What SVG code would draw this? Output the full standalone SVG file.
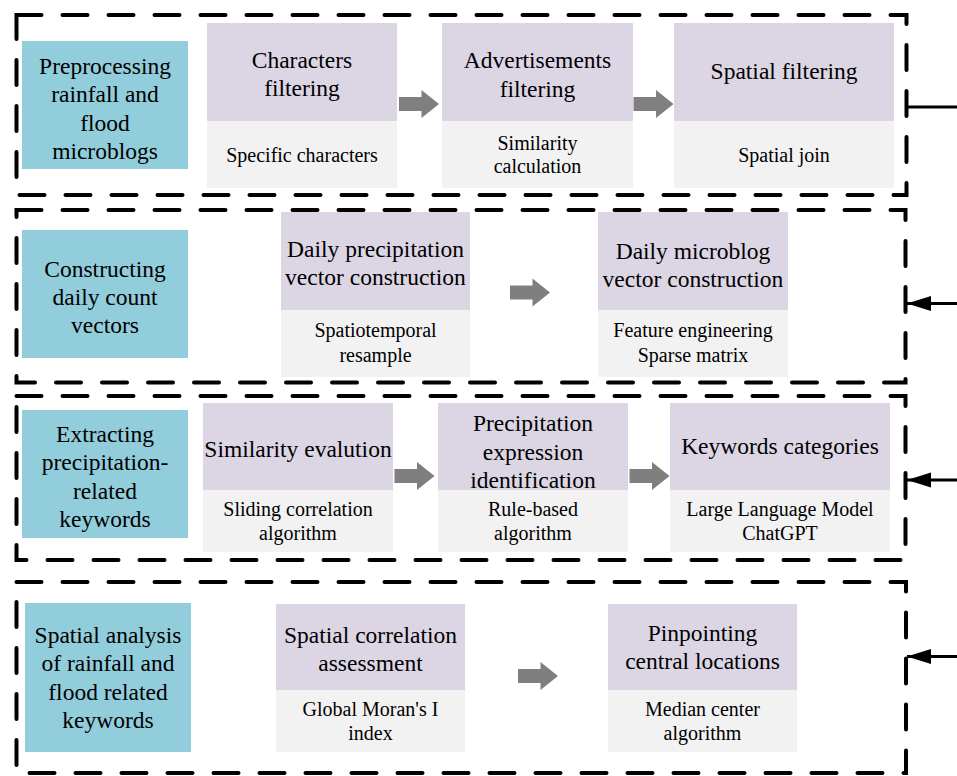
<svg xmlns="http://www.w3.org/2000/svg" width="957" height="776" viewBox="0 0 957 776">
<defs>
<style>
.frame{fill:none;stroke:#000;stroke-width:4;stroke-dasharray:25 21;stroke-linecap:round}
.blue{fill:#92CDDC}
.top{fill:#DCD6E4}
.bot{fill:#F2F2F2}
.t{font-family:"Liberation Serif","Times New Roman",serif;font-size:23.5px;fill:#000;text-anchor:middle}
.s{font-family:"Liberation Serif","Times New Roman",serif;font-size:20px;fill:#000;text-anchor:middle}
.conn{stroke:#000;stroke-width:3;fill:none}
.blk{fill:#7F7F7F}
</style>
<path id="blockArrow" d="M0,-7 L22.5,-7 L22.5,-14 L40,0 L22.5,14 L22.5,7 L0,7 Z"/>
<marker id="ah" markerUnits="userSpaceOnUse" markerWidth="26" markerHeight="16" refX="24" refY="7.5" orient="auto">
<path d="M0,0 L24,7.5 L0,15 Z" fill="#000"/>
</marker>
</defs>
<rect width="957" height="776" fill="#fff"/>

<g id="frames">
<rect class="frame" x="16.5" y="15" width="890" height="180"/>
<rect class="frame" x="16.5" y="210" width="889" height="172.5"/>
<rect class="frame" x="16.5" y="396" width="889" height="164"/>
<rect class="frame" x="16.5" y="582" width="889.5" height="191"/>
</g>

<g id="row1-label">
<rect class="blue" x="22" y="41" width="166" height="128"/>
<text class="t" x="105" y="74">Preprocessing</text>
<text class="t" x="105" y="102">rainfall and</text>
<text class="t" x="105" y="130.5">flood</text>
<text class="t" x="105" y="158.5">microblogs</text>
</g>
<g id="characters-filtering">
<rect class="top" x="207" y="23" width="190" height="98"/>
<rect class="bot" x="207" y="121" width="190" height="67"/>
<text class="t" x="302" y="68">Characters</text>
<text class="t" x="302" y="96">filtering</text>
<text class="s" x="302" y="161.5">Specific characters</text>
</g>
<g id="advertisements-filtering">
<rect class="top" x="442" y="23" width="191" height="98"/>
<rect class="bot" x="442" y="121" width="191" height="67"/>
<text class="t" x="537.5" y="68">Advertisements</text>
<text class="t" x="537.5" y="97">filtering</text>
<text class="s" x="537.5" y="149.5">Similarity</text>
<text class="s" x="537.5" y="172.5">calculation</text>
</g>
<g id="spatial-filtering">
<rect class="top" x="674" y="23" width="220" height="98"/>
<rect class="bot" x="674" y="121" width="220" height="67"/>
<text class="t" x="784" y="79">Spatial filtering</text>
<text class="s" x="784" y="161.5">Spatial join</text>
</g>

<g id="row2-label">
<rect class="blue" x="22" y="230" width="166" height="128"/>
<text class="t" x="105" y="277">Constructing</text>
<text class="t" x="105" y="305">daily count</text>
<text class="t" x="105" y="333">vectors</text>
</g>
<g id="daily-precipitation">
<rect class="top" x="281" y="212" width="189" height="98"/>
<rect class="bot" x="281" y="310" width="189" height="67"/>
<text class="t" x="375.5" y="257">Daily precipitation</text>
<text class="t" x="375.5" y="285">vector construction</text>
<text class="s" x="375.5" y="336.5">Spatiotemporal</text>
<text class="s" x="375.5" y="361.5">resample</text>
</g>
<g id="daily-microblog">
<rect class="top" x="598" y="212" width="190" height="98"/>
<rect class="bot" x="598" y="310" width="190" height="67"/>
<text class="t" x="693" y="259">Daily microblog</text>
<text class="t" x="693" y="287">vector construction</text>
<text class="s" x="693" y="336.5">Feature engineering</text>
<text class="s" x="693" y="361.5">Sparse matrix</text>
</g>

<g id="row3-label">
<rect class="blue" x="22" y="410" width="166" height="128"/>
<text class="t" x="105" y="441.5">Extracting</text>
<text class="t" x="105" y="470">precipitation-</text>
<text class="t" x="105" y="498.5">related</text>
<text class="t" x="105" y="527">keywords</text>
</g>
<g id="similarity-evalution">
<rect class="top" x="203" y="403" width="190" height="87"/>
<rect class="bot" x="203" y="490" width="190" height="62"/>
<text class="t" x="298" y="456.5">Similarity evalution</text>
<text class="s" x="298" y="515.5">Sliding correlation</text>
<text class="s" x="298" y="540">algorithm</text>
</g>
<g id="precipitation-expression">
<rect class="top" x="438" y="403" width="190" height="87"/>
<rect class="bot" x="438" y="490" width="190" height="62"/>
<text class="t" x="533" y="431">Precipitation</text>
<text class="t" x="533" y="459.5">expression</text>
<text class="t" x="533" y="487.5">identification</text>
<text class="s" x="533" y="515.5">Rule-based</text>
<text class="s" x="533" y="540">algorithm</text>
</g>
<g id="keywords-categories">
<rect class="top" x="670" y="403" width="220" height="87"/>
<rect class="bot" x="670" y="490" width="220" height="62"/>
<text class="t" x="780" y="454">Keywords categories</text>
<text class="s" x="780" y="515.5">Large Language Model</text>
<text class="s" x="780" y="540">ChatGPT</text>
</g>

<g id="row4-label">
<rect class="blue" x="25" y="603" width="166" height="149"/>
<text class="t" x="108" y="643">Spatial analysis</text>
<text class="t" x="108" y="671">of rainfall and</text>
<text class="t" x="108" y="700">flood related</text>
<text class="t" x="108" y="728">keywords</text>
</g>
<g id="spatial-correlation">
<rect class="top" x="276" y="604" width="189" height="86"/>
<rect class="bot" x="276" y="690" width="189" height="62"/>
<text class="t" x="370.5" y="643">Spatial correlation</text>
<text class="t" x="370.5" y="671">assessment</text>
<text class="s" x="370.5" y="715.5">Global Moran's I</text>
<text class="s" x="370.5" y="739.5">index</text>
</g>
<g id="pinpointing">
<rect class="top" x="608" y="604" width="189" height="86"/>
<rect class="bot" x="608" y="690" width="189" height="62"/>
<text class="t" x="702.5" y="641">Pinpointing</text>
<text class="t" x="702.5" y="669">central locations</text>
<text class="s" x="702.5" y="715.5">Median center</text>
<text class="s" x="702.5" y="739.5">algorithm</text>
</g>

<g id="connectors">
<use href="#blockArrow" class="blk" x="399" y="104"/>
<use href="#blockArrow" class="blk" x="633.5" y="104"/>
<use href="#blockArrow" class="blk" x="510" y="292.5"/>
<use href="#blockArrow" class="blk" x="394.5" y="476"/>
<use href="#blockArrow" class="blk" x="629.5" y="476"/>
<use href="#blockArrow" class="blk" x="518" y="676"/>
<line class="conn" x1="907" y1="107" x2="957" y2="107"/>
<line class="conn" x1="957" y1="303.5" x2="907" y2="303.5" marker-end="url(#ah)"/>
<line class="conn" x1="957" y1="480" x2="907" y2="480" marker-end="url(#ah)"/>
<line class="conn" x1="957" y1="656.5" x2="907" y2="656.5" marker-end="url(#ah)"/>
</g>
</svg>
